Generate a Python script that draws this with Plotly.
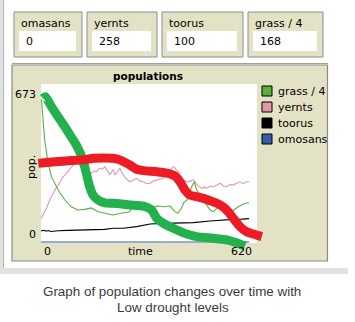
import plotly.graph_objects as go

W, H = 355, 322

# ---------------- data ----------------
monitor_names = ["omasans", "yernts", "toorus", "grass / 4"]
monitor_values = [0, 258, 100, 168]

series_names = ["grass / 4", "yernts", "toorus", "omosans"]

grass_t = [1, 6, 11, 21, 31, 51, 71, 90, 110, 130, 150, 170, 190, 215, 235, 265, 270,
           304, 349, 364, 385, 399, 408, 419, 426, 434, 449, 457, 464, 474, 489, 504,
           514, 524, 539, 554, 568, 588, 608, 620]
grass_v = [612, 523, 437, 339, 280, 223, 180, 151, 137, 140, 146, 130, 123, 116, 122, 130, 151,
           146, 154, 151, 154, 130, 123, 146, 170, 178, 237, 258, 223, 201, 166, 137,
           130, 144, 166, 151, 130, 151, 166, 168]

yernts_t = [1, 6, 11, 18, 26, 33, 41, 48, 56, 63, 71, 78, 86, 93, 100, 110, 115, 120, 125, 130,
            135, 140, 145, 150, 158, 165, 170, 175, 183, 190, 198, 205, 210, 215, 221, 228,
            235, 240, 245, 255, 265, 275, 285, 295, 305, 315, 325, 335, 345, 355, 365, 375,
            385, 391, 396, 402, 409, 423, 438, 446, 454, 466, 479, 487, 494, 504, 514, 524,
            534, 544, 554, 563, 573, 583, 593, 603, 613, 620]
yernts_v = [102, 115, 130, 150, 180, 200, 223, 240, 253, 275, 287, 300, 316, 325, 337, 344, 330,
            316, 320, 309, 318, 316, 300, 295, 305, 301, 310, 316, 312, 323, 305, 287, 300,
            309, 287, 300, 316, 300, 287, 270, 258, 266, 273, 262, 258, 250, 252, 262, 266,
            270, 273, 290, 309, 318, 323, 312, 301, 266, 257, 262, 266, 245, 230, 236, 230,
            240, 237, 244, 252, 240, 237, 246, 244, 252, 258, 250, 258, 258]

toorus_t = [0, 10, 15, 22, 30, 40, 51, 80, 120, 160, 190, 215, 245, 285, 325, 365, 429, 454,
            504, 534, 560, 573, 600, 620]
toorus_v = [48, 50, 46, 49, 45, 47, 48, 50, 51, 52, 54, 59, 59, 66, 77, 80, 83, 83,
            90, 94, 95, 97, 98, 100]

omosans_t = [0, 620]
omosans_v = [0, 0]

# hand-drawn annotation strokes over the chart
stroke_green_t = [6, 13, 31, 51, 71, 90, 105, 115, 125, 135, 145, 155, 170, 190, 215, 265, 305,
                  330, 345, 365, 394, 429, 464, 514, 554, 583, 608]
stroke_green_v = [616, 623, 580, 537, 494, 451, 416, 387, 352, 295, 237, 201, 180, 168, 166, 159,
                  154, 137, 102, 80, 59, 37, 23, 16, 9, -3, -17]
stroke_red_t = [-8, 41, 90, 140, 155, 215, 235, 265, 285, 305, 345, 375, 399, 414, 429, 444, 464,
                484, 504, 524, 543, 558, 573, 593, 613, 633, 658]
stroke_red_v = [337, 344, 349, 355, 359, 359, 352, 330, 312, 306, 301, 295, 283, 259, 223, 201,
                194, 187, 177, 166, 151, 130, 102, 66, 44, 34, 23]

y_max_label = 673
x_max_label = 620

# ---------------- helpers ----------------
def px(x):
    return x / W

def py(y):
    return 1 - y / H

BEIGE = "#e4e2c4"
FONT = "DejaVu Sans"
colors = {"grass / 4": "#59b03c", "yernts": "#e995a9", "toorus": "#000000", "omosans": "#345da9"}

fig = go.Figure()

series = [(grass_t, grass_v, "grass / 4"), (yernts_t, yernts_v, "yernts"),
          (toorus_t, toorus_v, "toorus"), (omosans_t, omosans_v, "omosans")]
for t, v, name in reversed(series):
    fig.add_trace(go.Scatter(x=t, y=v, mode="lines", name=name,
                             line=dict(color=colors[name], width=1.1), showlegend=False,
                             hoverinfo="skip"))

fig.add_trace(go.Scatter(x=stroke_green_t, y=stroke_green_v, mode="lines",
                         line=dict(color="#22b14c", width=9, shape="spline", smoothing=0.6),
                         showlegend=False, hoverinfo="skip"))
fig.add_trace(go.Scatter(x=stroke_red_t, y=stroke_red_v, mode="lines",
                         line=dict(color="#ed1c24", width=9, shape="spline", smoothing=0.6),
                         showlegend=False, hoverinfo="skip"))

# axis geometry: plot (0..620, 0..673) maps to px 41..249, py 242..85
sx = 620 / 208.0
sy = 673 / 157.0
x_left_px, x_right_px = 30, 272
y_top_px, y_bot_px = 84, 252
fig.update_xaxes(domain=[px(x_left_px), px(x_right_px)],
                 range=[(x_left_px - 41) * sx, (x_right_px - 41) * sx], visible=False)
fig.update_yaxes(domain=[py(y_bot_px), py(y_top_px)],
                 range=[(242 - y_bot_px) * sy, (242 - y_top_px) * sy], visible=False)

shapes = []
anns = []

def rect(x0, x1, y0, y1, fill, lc=None, lw=0, layer="below"):
    shapes.append(dict(type="rect", xref="paper", yref="paper",
                       x0=px(x0), x1=px(x1), y0=py(y1), y1=py(y0),
                       fillcolor=fill, line=dict(color=lc or fill, width=lw), layer=layer))

def hline(x0, x1, y, color, w=1):
    shapes.append(dict(type="line", xref="paper", yref="paper", x0=px(x0), x1=px(x1),
                       y0=py(y), y1=py(y), line=dict(color=color, width=w), layer="below"))

def vline(x, y0, y1, color, w=1):
    shapes.append(dict(type="line", xref="paper", yref="paper", x0=px(x), x1=px(x),
                       y0=py(y0), y1=py(y1), line=dict(color=color, width=w), layer="below"))

def text(x, y, s, xanchor="left", size=11, family=FONT, color="black", angle=0):
    anns.append(dict(xref="paper", yref="paper", x=px(x), y=py(y), text=s, xanchor=xanchor,
                     yanchor="middle", showarrow=False, textangle=angle,
                     font=dict(family=family, size=size, color=color)))

# left / bottom window chrome
rect(0, 4, 0, 272, "#e2e2e2")
vline(3.5, 0, 272, "#b4b4b4")
rect(0, 348, 268, 274, "#e2e2e2")

# monitors
mon_boxes = [(14, 82), (87, 157), (162, 243), (248, 323)]
for (x0, x1), name, val in zip(mon_boxes, monitor_names, monitor_values):
    rect(x0, x1, 12, 57, BEIGE, "#8c8c8c", 1)
    rect(x0 + 5, x1 - 6, 31, 51, "white")
    text(x0 + 5, 23.5, name)
    text(x0 + 10, 41.5, str(val))

hline(12, 328, 63.5, "#a0a0a0")

# plot panel
rect(12, 327.5, 65, 261, BEIGE, "#8a8a8a", 1.2)
rect(41, 257, 84, 243, "white")

text(148, 75.5, "<b>populations</b>", xanchor="center", size=10.5)

# tick labels
text(37.5, 95, str(y_max_label), xanchor="right")
text(37.5, 234, "0", xanchor="right")
text(31.5, 167.5, "pop.", xanchor="center", angle=-90)
text(41.5, 251, "0")
text(140.5, 251, "time", xanchor="center")
text(253.5, 251, str(x_max_label), xanchor="right")

# legend
leg_y = [91, 107, 123, 139]
for name, yc in zip(series_names, leg_y):
    rect(262, 272, yc - 5, yc + 5, colors[name], "black", 1, layer="above")
    text(275.5, yc + 0.5, name)

# caption
text(172, 291, "Graph of population changes over time with", xanchor="center",
     size=13.4, family="Liberation Sans", color="#3a3a3a")
text(172.5, 307.5, "Low drought levels", xanchor="center",
     size=13.4, family="Liberation Sans", color="#3a3a3a")

fig.update_layout(width=W, height=H, margin=dict(l=0, r=0, t=0, b=0),
                  paper_bgcolor="white", plot_bgcolor="rgba(0,0,0,0)",
                  shapes=shapes, annotations=anns, showlegend=False)

fig.write_html("out.html")
